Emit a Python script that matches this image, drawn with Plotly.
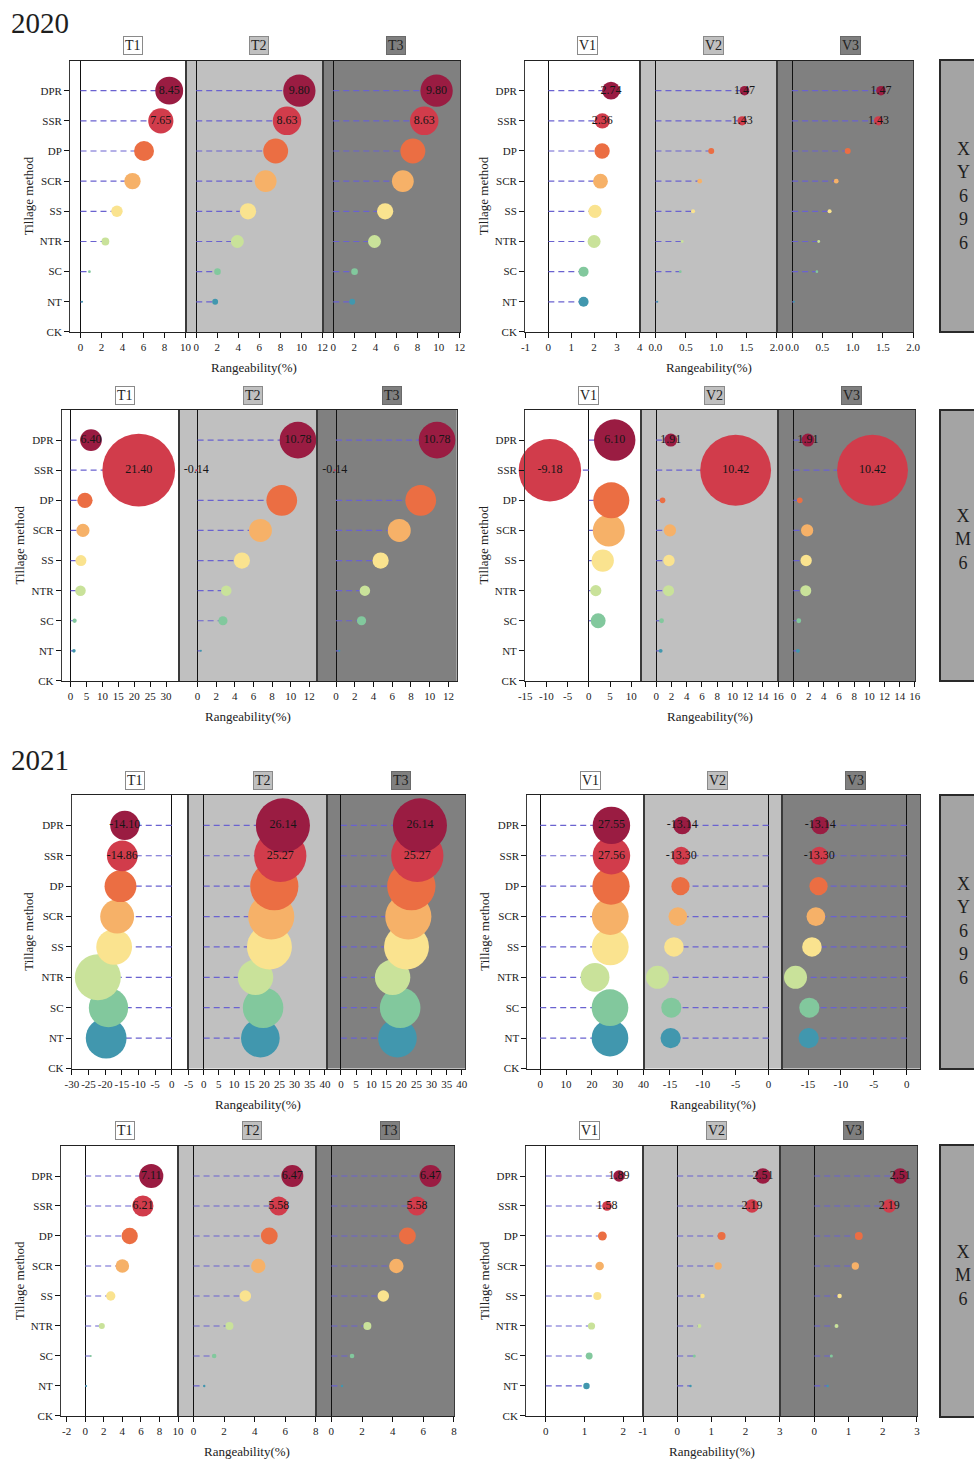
import plotly.graph_objects as go

# ---------------- data ----------------
AXIS_CATS = ["CK", "NT", "SC", "NTR", "SS", "SCR", "DP", "SSR", "DPR"]
POINT_CATS = ["DPR", "SSR", "DP", "SCR", "SS", "NTR", "SC", "NT"]
LABELED_CATS = ["DPR", "SSR"]

# 2020, XY696
XY696_2020_T1 = [8.45, 7.65, 6.05, 4.95, 3.47, 2.37, 0.85, 0.15]
XY696_2020_T2 = [9.80, 8.63, 7.55, 6.60, 4.92, 3.91, 2.02, 1.80]
XY696_2020_T3 = [9.80, 8.63, 7.55, 6.60, 4.92, 3.91, 2.02, 1.80]
XY696_2020_V1 = [2.74, 2.36, 2.35, 2.28, 2.04, 2.00, 1.54, 1.54]
XY696_2020_V2 = [1.47, 1.43, 0.92, 0.73, 0.62, 0.44, 0.41, 0.03]
XY696_2020_V3 = [1.47, 1.43, 0.92, 0.73, 0.62, 0.44, 0.41, 0.03]
# 2020, XM6
XM6_2020_T1 = [6.40, 21.40, 4.50, 3.87, 3.24, 3.10, 1.25, 1.04]
XM6_2020_T2 = [10.78, -0.14, 9.04, 6.75, 4.76, 3.08, 2.72, 0.35]
XM6_2020_T3 = [10.78, -0.14, 9.04, 6.75, 4.76, 3.08, 2.72, 0.35]
XM6_2020_V1 = [6.10, -9.18, 5.30, 4.70, 3.28, 1.64, 2.20, 0.0]
XM6_2020_V2 = [1.91, 10.42, 0.83, 1.80, 1.67, 1.62, 0.70, 0.58]
XM6_2020_V3 = [1.91, 10.42, 0.83, 1.80, 1.67, 1.62, 0.70, 0.58]
# 2021, XY696
XY696_2021_T1 = [-14.10, -14.86, -15.4, -16.4, -17.3, -22.2, -19.0, -19.7]
XY696_2021_T2 = [26.14, 25.27, 23.3, 22.3, 21.7, 17.1, 19.6, 18.7]
XY696_2021_T3 = [26.14, 25.27, 23.3, 22.3, 21.7, 17.1, 19.6, 18.7]
XY696_2021_V1 = [27.55, 27.56, 27.4, 27.1, 27.1, 21.2, 27.0, 27.0]
XY696_2021_V2 = [-13.14, -13.30, -13.4, -13.8, -14.4, -16.9, -14.8, -14.9]
XY696_2021_V3 = [-13.14, -13.30, -13.4, -13.8, -14.4, -16.9, -14.8, -14.9]
# 2021, XM6
XM6_2021_T1 = [7.11, 6.21, 4.79, 4.00, 2.75, 1.79, 0.60, 0.10]
XM6_2021_T2 = [6.47, 5.58, 4.96, 4.24, 3.39, 2.35, 1.35, 0.70]
XM6_2021_T3 = [6.47, 5.58, 4.96, 4.24, 3.39, 2.35, 1.35, 0.70]
XM6_2021_V1 = [1.89, 1.58, 1.46, 1.39, 1.33, 1.18, 1.12, 1.05]
XM6_2021_V2 = [2.51, 2.19, 1.30, 1.20, 0.74, 0.65, 0.50, 0.39]
XM6_2021_V3 = [2.51, 2.19, 1.30, 1.20, 0.74, 0.65, 0.50, 0.39]

# tick labels
TICKS_XY696_2020_T = [[0, 2, 4, 6, 8, 10], [0, 2, 4, 6, 8, 10, 12], [0, 2, 4, 6, 8, 10, 12]]
TICKS_XY696_2020_V = [[-1, 0, 1, 2, 3, 4], [0, 0.5, 1.0, 1.5, 2.0], [0, 0.5, 1.0, 1.5, 2.0]]
TICKS_XM6_2020_T = [[0, 5, 10, 15, 20, 25, 30], [0, 2, 4, 6, 8, 10, 12], [0, 2, 4, 6, 8, 10, 12]]
TICKS_XM6_2020_V = [[-15, -10, -5, 0, 5, 10], [0, 2, 4, 6, 8, 10, 12, 14, 16], [0, 2, 4, 6, 8, 10, 12, 14, 16]]
TICKS_XY696_2021_T = [[-30, -25, -20, -15, -10, -5, 0], [-5, 0, 5, 10, 15, 20, 25, 30, 35, 40],
                      [0, 5, 10, 15, 20, 25, 30, 35, 40]]
TICKS_XY696_2021_V = [[0, 10, 20, 30, 40], [-15, -10, -5, 0], [-15, -10, -5, 0]]
TICKS_XM6_2021_T = [[-2, 0, 2, 4, 6, 8, 10], [0, 2, 4, 6, 8], [0, 2, 4, 6, 8]]
TICKS_XM6_2021_V = [[0, 1, 2], [-1, 0, 1, 2, 3], [0, 1, 2, 3]]

T_TITLES = ["T1", "T2", "T3"]
V_TITLES = ["V1", "V2", "V3"]
YEARS = ["2020", "2021"]
CULTIVARS = ["XY696", "XM6", "XY696", "XM6"]
X_TITLE = "Rangeability(%)"
Y_TITLE = "Tillage method"

# ---------------- style / layout ----------------
W, H = 974, 1460
FONT = "Liberation Serif, Times New Roman, serif"
PANEL_BG = ["#ffffff", "#c0c0c0", "#808080"]
TITLE_BOX_BG = ["#ffffff", "#c0c0c0", "#7f7f7f"]
TITLE_BOX_BORDER = ["#8a8a8a", "#8a8a8a", "#6a6a6a"]
DASH_COLOR = "#6a62d0"
CAT_COLORS = {"DPR": "#9a1c42", "SSR": "#d13c4b", "DP": "#eb6e43", "SCR": "#f6b168",
              "SS": "#fae38f", "NTR": "#c9e29a", "SC": "#82c89d", "NT": "#4197ae"}


def px(x):
    return x / W


def py(y):
    return 1 - y / H


GROUPS = [
    dict(vals=[XY696_2020_T1, XY696_2020_T2, XY696_2020_T3], titles=T_TITLES, ticks=TICKS_XY696_2020_T,
         dec=[0, 0, 0], top=60.5, bottom=332, edges=[70, 185.7, 322.7, 460],
         ranges=[[-1, 10.02], [-1, 12.02], [-1, 12.02]], k=3.3, ytx=28, xt=(254, 367.5), tty=45),
    dict(vals=[XY696_2020_V1, XY696_2020_V2, XY696_2020_V3], titles=V_TITLES, ticks=TICKS_XY696_2020_V,
         dec=[0, 1, 1], top=60.5, bottom=332, edges=[525, 640.3, 777, 913.3],
         ranges=[[-1.02, 4.02], [-0.25, 2.005], [-0.25, 2.005]], k=6.5, ytx=483, xt=(709, 367.5), tty=45),
    dict(vals=[XM6_2020_T1, XM6_2020_T2, XM6_2020_T3], titles=T_TITLES, ticks=TICKS_XM6_2020_T,
         dec=[0, 0, 0], top=410, bottom=681, edges=[61.7, 179, 317.3, 456.7],
         ranges=[[-2.8, 34.05], [-2, 12.86], [-2, 12.88]], k=3.4, ytx=19, xt=(248, 716.5), tty=395),
    dict(vals=[XM6_2020_V1, XM6_2020_V2, XM6_2020_V3], titles=V_TITLES, ticks=TICKS_XM6_2020_V,
         dec=[0, 0, 0], top=410, bottom=681, edges=[525, 641, 778.3, 915],
         ranges=[[-15.05, 12.3], [-2, 16.02], [-2, 16.02]], k=6.8, ytx=483, xt=(710, 716.5), tty=395),
    dict(vals=[XY696_2021_T1, XY696_2021_T2, XY696_2021_T3], titles=T_TITLES, ticks=TICKS_XY696_2021_T,
         dec=[0, 0, 0], top=795, bottom=1068.5, edges=[71.7, 188.4, 326.7, 465],
         ranges=[[-30.05, 5], [-5.05, 40.6], [-4.7, 41.05]], k=2.07, ytx=29, xt=(257.7, 1104), tty=780),
    dict(vals=[XY696_2021_V1, XY696_2021_V2, XY696_2021_V3], titles=V_TITLES, ticks=TICKS_XY696_2021_V,
         dec=[0, 0, 0], top=795, bottom=1068.5, edges=[527.3, 643.7, 781.7, 920],
         ranges=[[-5, 40.05], [-19, 2], [-19, 2.03]], k=1.36, ytx=485, xt=(712.7, 1104), tty=780),
    dict(vals=[XM6_2021_T1, XM6_2021_T2, XM6_2021_T3], titles=T_TITLES, ticks=TICKS_XM6_2021_T,
         dec=[0, 0, 0], top=1146, bottom=1416, edges=[61, 178.3, 316, 454.3],
         ranges=[[-2.6, 10.02], [-1, 8.02], [-1, 8.02]], k=3.4, ytx=19, xt=(247.3, 1451.5), tty=1130.5),
    dict(vals=[XM6_2021_V1, XM6_2021_V2, XM6_2021_V3], titles=V_TITLES, ticks=TICKS_XM6_2021_V,
         dec=[0, 0, 0], top=1146, bottom=1416, edges=[526, 642.7, 780, 917.3],
         ranges=[[-0.51, 2.5], [-1.01, 3.01], [-1, 3.01]], k=6.1, ytx=484, xt=(711.7, 1451.5), tty=1130.5),
]

SIDE_BOXES = [
    dict(top=60, bottom=332, text_y=195.5),
    dict(top=410, bottom=681, text_y=539.5),
    dict(top=795, bottom=1069, text_y=931),
    dict(top=1145, bottom=1417, text_y=1275),
]
YEAR_POS = [(40, 23), (40, 760)]

fig = go.Figure()
axes = {}
shapes = []
annotations = []

ypos_map = {c: i for i, c in enumerate(AXIS_CATS)}
draw_order = list(reversed(range(len(POINT_CATS))))  # NT first, DPR last

n = 0
for g in GROUPS:
    for j in range(3):
        n += 1
        xname = "xaxis" if n == 1 else f"xaxis{n}"
        yname = "yaxis" if n == 1 else f"yaxis{n}"
        xr = "x" if n == 1 else f"x{n}"
        yr = "y" if n == 1 else f"y{n}"
        vals = g["vals"][j]
        cats = [POINT_CATS[i] for i in draw_order]
        xs = [vals[i] for i in draw_order]
        ys = [ypos_map[c] for c in cats]

        lx, ly = [], []
        for v, yy in zip(xs, ys):
            lx += [0, v, None]
            ly += [yy, yy, None]
        fig.add_trace(go.Scatter(x=lx, y=ly, mode="lines", xaxis=xr, yaxis=yr,
                                 line=dict(color=DASH_COLOR, width=1.2, dash="6px,4px"),
                                 showlegend=False, hoverinfo="skip"))
        sizes = [0 if v == 0 else max(g["k"] * abs(v), 2) for v in xs]
        texts = [f"{v:.2f}" if c in LABELED_CATS else "" for v, c in zip(xs, cats)]
        fig.add_trace(go.Scatter(x=xs, y=ys, mode="markers+text", xaxis=xr, yaxis=yr,
                                 marker=dict(size=sizes, sizemode="diameter",
                                             color=[CAT_COLORS[c] for c in cats],
                                             line=dict(width=0), opacity=1),
                                 text=texts, textposition="middle center",
                                 textfont=dict(family=FONT, size=12, color="#161616"),
                                 showlegend=False, hoverinfo="skip", cliponaxis=False))

        x0, x1 = g["edges"][j], g["edges"][j + 1]
        d = g["dec"][j]
        tv = g["ticks"][j]
        axes[xname] = dict(domain=[px(x0), px(x1)], range=g["ranges"][j], anchor=yr,
                           tickvals=tv, ticktext=[f"{t:.{d}f}" for t in tv], tickangle=0,
                           ticks="outside", ticklen=5, tickwidth=1, tickcolor="#111",
                           showline=True, mirror=True, linecolor="#222", linewidth=1.2,
                           showgrid=False, zeroline=True, zerolinecolor="#111", zerolinewidth=1.2,
                           tickfont=dict(family=FONT, size=11, color="#222"), automargin=False)
        axes[yname] = dict(domain=[py(g["bottom"]), py(g["top"])], range=[-0.001, 9], anchor=xr,
                           showgrid=False, zeroline=False, showline=True, mirror=True,
                           linecolor="#3a3a3a", linewidth=0.9,
                           tickvals=list(range(len(AXIS_CATS))), ticktext=AXIS_CATS,
                           ticks="outside" if j == 0 else "", ticklen=5, tickcolor="#111",
                           showticklabels=(j == 0),
                           tickfont=dict(family=FONT, size=11, color="#222"), automargin=False)
        shapes.append(dict(type="rect", xref=f"{xr} domain", yref=f"{yr} domain",
                           x0=0, x1=1, y0=0, y1=1, fillcolor=PANEL_BG[j],
                           line=dict(width=0), layer="below"))
        annotations.append(dict(text=g["titles"][j], xref="paper", yref="paper",
                                x=px((x0 + x1) / 2 + 5), y=py(g["tty"]),
                                xanchor="center", yanchor="middle", showarrow=False,
                                font=dict(family=FONT, size=14, color="#222"),
                                bgcolor=TITLE_BOX_BG[j], bordercolor=TITLE_BOX_BORDER[j],
                                borderwidth=1, borderpad=1))
    # axis titles
    annotations.append(dict(text=X_TITLE, xref="paper", yref="paper", x=px(g["xt"][0]), y=py(g["xt"][1]),
                            xanchor="center", yanchor="middle", showarrow=False,
                            font=dict(family=FONT, size=13, color="#222")))
    annotations.append(dict(text=Y_TITLE, xref="paper", yref="paper", x=px(g["ytx"]),
                            y=py((g["top"] + g["bottom"]) / 2), textangle=-90,
                            xanchor="center", yanchor="middle", showarrow=False,
                            font=dict(family=FONT, size=13, color="#222")))

for sb, name in zip(SIDE_BOXES, CULTIVARS):
    shapes.append(dict(type="rect", xref="paper", yref="paper", x0=px(940), x1=px(990),
                       y0=py(sb["bottom"]), y1=py(sb["top"]), fillcolor="#a4a4a4",
                       line=dict(color="#2a2a2a", width=2), layer="above"))
    annotations.append(dict(text="<br>".join(list(name)), xref="paper", yref="paper",
                            x=px(963), y=py(sb["text_y"]), align="center",
                            xanchor="center", yanchor="middle", showarrow=False,
                            font=dict(family=FONT, size=18, color="#1e1e1e")))

for yr_txt, (xx, yy) in zip(YEARS, YEAR_POS):
    annotations.append(dict(text=yr_txt, xref="paper", yref="paper", x=px(xx), y=py(yy),
                            xanchor="center", yanchor="middle", showarrow=False,
                            font=dict(family=FONT, size=29, color="#1e1e1e")))

fig.update_layout(width=W, height=H, margin=dict(l=0, r=0, t=0, b=0),
                  paper_bgcolor="white", plot_bgcolor="rgba(0,0,0,0)",
                  showlegend=False, shapes=shapes, annotations=annotations, **axes)

fig.write_html("out.html")
